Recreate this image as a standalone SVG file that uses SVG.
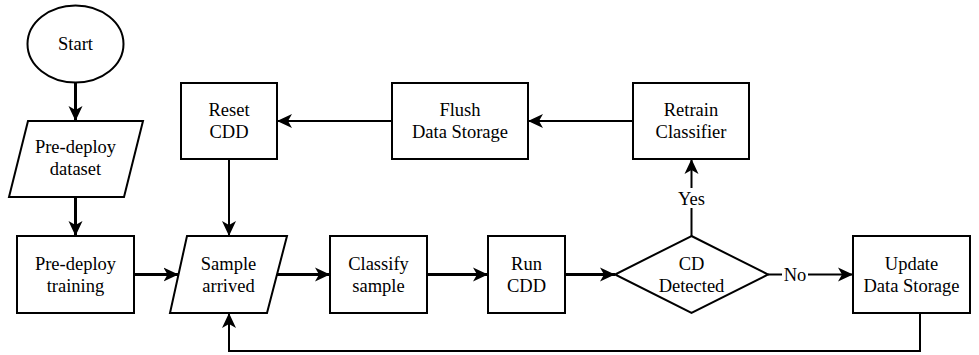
<svg xmlns="http://www.w3.org/2000/svg" width="979" height="355" viewBox="0 0 979 355" font-family="Liberation Serif, DejaVu Serif, serif">
<style>
.n{fill:#fff;stroke:#000;stroke-width:2}
.t{font-size:18.5px;fill:#000;text-anchor:middle}
.c{fill:none;stroke:#000;stroke-width:2}
.k{stroke-width:3}
.lb{fill:#fff;stroke:none}
</style>
<defs>
<marker id="ah" markerUnits="userSpaceOnUse" markerWidth="16" markerHeight="16" refX="15" refY="7" orient="auto" viewBox="0 0 16 14">
<path d="M0,0 L15,7 L0,14 L4,7 Z" fill="#000"/>
</marker>
</defs>
<g id="connectors">
<path class="c k" d="M75.5,83 V121" marker-end="url(#ah)"/>
<path class="c k" d="M75.5,197 V236" marker-end="url(#ah)"/>
<path class="c k" d="M134,274.5 H178.5" marker-end="url(#ah)"/>
<path class="c k" d="M277,274.5 H330" marker-end="url(#ah)"/>
<path class="c k" d="M427,274.5 H488" marker-end="url(#ah)"/>
<path class="c k" d="M565,274.5 H615" marker-end="url(#ah)"/>
<path class="c" d="M691.5,236 V159" marker-end="url(#ah)"/>
<path class="c" d="M768,274.5 H853" marker-end="url(#ah)"/>
<path class="c" d="M920,313 V351 H229 V313" marker-end="url(#ah)"/>
<path class="c" d="M633,121 H528" marker-end="url(#ah)"/>
<path class="c" d="M392,121 H277" marker-end="url(#ah)"/>
<path class="c" d="M229,159 V236" marker-end="url(#ah)"/>
<rect class="lb" x="677" y="188" width="29" height="20"/>
<text class="t" x="691.5" y="205">Yes</text>
<rect class="lb" x="782" y="265" width="26" height="20"/>
<text class="t" x="795" y="281">No</text>
</g>
<g id="start">
<ellipse class="n" cx="75.5" cy="44" rx="48" ry="38.5"/>
<text class="t" x="75.5" y="50">Start</text>
</g>
<g id="predeploy-dataset">
<polygon class="n" points="28,121 143,121 124,197 9,197"/>
<text class="t" x="75.5" y="153">Pre-deploy</text>
<text class="t" x="75.5" y="175">dataset</text>
</g>
<g id="predeploy-training">
<rect class="n" x="17" y="236" width="117" height="77"/>
<text class="t" x="75.5" y="269.5">Pre-deploy</text>
<text class="t" x="75.5" y="291.5">training</text>
</g>
<g id="sample-arrived">
<polygon class="n" points="187,236 287,236 267,313 170,313"/>
<text class="t" x="228.5" y="269.5">Sample</text>
<text class="t" x="228.5" y="291.5">arrived</text>
</g>
<g id="classify-sample">
<rect class="n" x="330" y="236" width="97" height="77"/>
<text class="t" x="378.5" y="269.5">Classify</text>
<text class="t" x="378.5" y="291.5">sample</text>
</g>
<g id="run-cdd">
<rect class="n" x="488" y="236" width="77" height="77"/>
<text class="t" x="526.5" y="269.5">Run</text>
<text class="t" x="526.5" y="291.5">CDD</text>
</g>
<g id="cd-detected">
<polygon class="n" points="691.5,236 768,274.5 691.5,313 615,274.5"/>
<text class="t" x="691.5" y="269.5">CD</text>
<text class="t" x="691.5" y="291.5">Detected</text>
</g>
<g id="update-data-storage">
<rect class="n" x="853" y="236" width="117" height="77"/>
<text class="t" x="911.5" y="269.5">Update</text>
<text class="t" x="911.5" y="291.5">Data Storage</text>
</g>
<g id="retrain-classifier">
<rect class="n" x="633" y="83" width="116" height="76"/>
<text class="t" x="691" y="116">Retrain</text>
<text class="t" x="691" y="138">Classifier</text>
</g>
<g id="flush-data-storage">
<rect class="n" x="392" y="83" width="136" height="76"/>
<text class="t" x="460" y="116">Flush</text>
<text class="t" x="460" y="138">Data Storage</text>
</g>
<g id="reset-cdd">
<rect class="n" x="181" y="83" width="96" height="76"/>
<text class="t" x="229" y="116">Reset</text>
<text class="t" x="229" y="138">CDD</text>
</g>
</svg>
